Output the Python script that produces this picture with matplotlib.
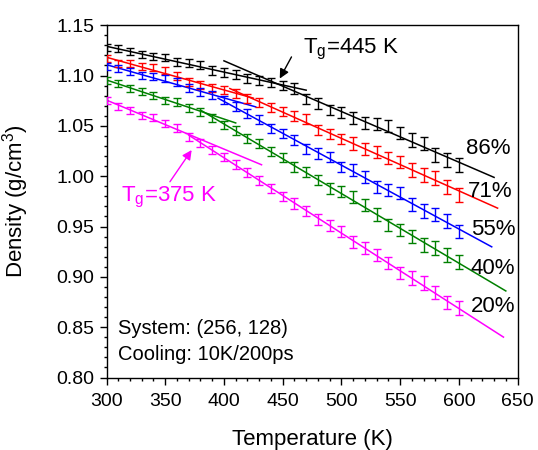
import matplotlib
matplotlib.use("Agg")
import matplotlib.pyplot as plt
import numpy as np
from matplotlib.ticker import MultipleLocator, FormatStrFormatter

plt.rcParams['font.family'] = ['Liberation Sans', 'DejaVu Sans']
plt.rcParams['mathtext.fontset'] = 'custom'
plt.rcParams['mathtext.rm'] = 'Liberation Sans'
plt.rcParams['mathtext.it'] = 'Liberation Sans'

# --- data: density (g/cm3) vs temperature (K) ---
temp = np.arange(300, 601, 10)

d86 = [1.128, 1.1265, 1.1235, 1.121, 1.119, 1.118, 1.1135, 1.112, 1.110, 1.105,
       1.103, 1.101, 1.097, 1.0955, 1.0935, 1.0905, 1.087, 1.0765, 1.072, 1.066,
       1.0635, 1.058, 1.053, 1.052, 1.0495, 1.0425, 1.036, 1.0325, 1.021, 1.016, 1.011]
d71 = [1.117, 1.112, 1.112, 1.109, 1.108, 1.105, 1.100, 1.094, 1.091, 1.088,
       1.0855, 1.082, 1.077, 1.073, 1.068, 1.064, 1.060, 1.057, 1.046, 1.042,
       1.037, 1.0325, 1.027, 1.024, 1.0177, 1.0144, 1.006, 1.001, 0.998, 0.9896, 0.981]
d55 = [1.1086, 1.107, 1.1037, 1.1004, 1.0994, 1.0971, 1.0937, 1.0872, 1.0838, 1.0805,
       1.0756, 1.069, 1.0625, 1.0565, 1.0475, 1.0426, 1.036, 1.027, 1.0227, 1.019,
       1.0094, 1.006, 0.999, 0.9893, 0.9863, 0.983, 0.972, 0.9655, 0.962, 0.9555, 0.945]
d40 = [1.0954, 1.0921, 1.0872, 1.0838, 1.0805, 1.0756, 1.0739, 1.068, 1.064, 1.058,
       1.0508, 1.045, 1.0375, 1.0326, 1.0245, 1.0185, 1.0094, 1.0044, 0.9962, 0.988,
       0.9846, 0.9797, 0.971, 0.962, 0.9515, 0.9465, 0.940, 0.9317, 0.9284, 0.9218, 0.915]
d20 = [1.0756, 1.0696, 1.0656, 1.0606, 1.058, 1.0525, 1.0475, 1.039, 1.0326, 1.026,
       1.0193, 1.012, 1.0035, 0.9962, 0.988, 0.9803, 0.973, 0.9655, 0.957, 0.951,
       0.945, 0.935, 0.9284, 0.9218, 0.9135, 0.904, 0.8986, 0.8936, 0.8845, 0.8746, 0.8689]

err = [0.0035, 0.0035, 0.0035, 0.0035, 0.0035, 0.0035, 0.0040, 0.0040, 0.0040, 0.0040,
       0.0040, 0.0045, 0.0045, 0.0045, 0.0045, 0.0045, 0.0052, 0.0052, 0.0052, 0.0052,
       0.0052, 0.0060, 0.0060, 0.0060, 0.0060, 0.0060, 0.0068, 0.0068, 0.0068, 0.0068, 0.0068]

series = [d86, d71, d55, d40, d20]
labels = ['86%', '71%', '55%', '40%', '20%']
colors = ['black', 'red', 'blue', 'green', 'magenta']

# glass transition split and extent of the two linear fits drawn for each series
tg_split = [445, 415, 405, 385, 375]
low_end = [470, 425, 427, 410, 432]
high_start = [400, 405, 395, 380, 370]
high_end = [630, 633, 628, 640, 638]

# label positions (T, density) for the percent tags
tag_pos = [(606, 1.0275), (608, 0.9846), (610, 0.9466), (610, 0.908), (610, 0.8705)]

fig, ax = plt.subplots(figsize=(5.38, 4.5), dpi=100)
fig.subplots_adjust(left=0.198, right=0.962, top=0.944, bottom=0.161)

for d, lab, c, tg, le, hs, he, pos in zip(series, labels, colors, tg_split,
                                           low_end, high_start, high_end, tag_pos):
    d = np.array(d)
    ax.errorbar(temp, d, yerr=err, fmt='none', ecolor=c, elinewidth=1.0,
                capsize=2.8, capthick=1.0, zorder=3)
    lo = temp <= tg
    hi = temp >= tg
    p_lo = np.polyfit(temp[lo], d[lo], 1)
    p_hi = np.polyfit(temp[hi], d[hi], 1)
    t_lo = np.array([300, le])
    t_hi = np.array([hs, he])
    ax.plot(t_lo, np.polyval(p_lo, t_lo), color=c, lw=1.1, zorder=2)
    ax.plot(t_hi, np.polyval(p_hi, t_hi), color=c, lw=1.1, zorder=2)
    ax.text(pos[0], pos[1], lab, fontsize=16, color='black', va='center', ha='left')

# Tg annotations
ax.annotate('', xy=(447.5, 1.097), xytext=(457.5, 1.1185),
            arrowprops=dict(arrowstyle='-|>', color='black', lw=1.0,
                            mutation_scale=14, shrinkA=0, shrinkB=0))
ax.text(467, 1.1255, r'T$_{\rm g}$=445 K', fontsize=16, va='center', ha='left')

ax.annotate('', xy=(372.5, 1.026), xytext=(354, 0.9945),
            arrowprops=dict(arrowstyle='-|>', color='magenta', lw=1.0,
                            mutation_scale=14, shrinkA=0, shrinkB=0))
ax.text(312, 0.979, r'T$_{\rm g}$=375 K', fontsize=16, va='center', ha='left',
        color='magenta')

ax.text(310, 0.849, 'System: (256, 128)', fontsize=14.5, va='center', ha='left')
ax.text(310, 0.8225, 'Cooling: 10K/200ps', fontsize=14.5, va='center', ha='left')

ax.set_xlim(300, 650)
ax.set_ylim(0.80, 1.15)
ax.xaxis.set_major_locator(MultipleLocator(50))
ax.xaxis.set_minor_locator(MultipleLocator(10))
ax.yaxis.set_major_locator(MultipleLocator(0.05))
ax.yaxis.set_minor_locator(MultipleLocator(0.01))
ax.yaxis.set_major_formatter(FormatStrFormatter('%.2f'))
ax.tick_params(which='major', direction='out', length=5, width=1, labelsize=14, pad=4)
ax.tick_params(which='minor', direction='out', length=2.5, width=1)
ax.tick_params(axis='x', which='major', pad=6)
for s in ax.spines.values():
    s.set_linewidth(1.0)

ax.set_xlabel('Temperature (K)', fontsize=16)
ax.set_ylabel(r'Density (g/cm$^{3}$)', fontsize=16)
ax.xaxis.set_label_coords(0.5, -0.145)
ax.yaxis.set_label_coords(-0.183, 0.5)

fig.savefig('out.png', dpi=100)
